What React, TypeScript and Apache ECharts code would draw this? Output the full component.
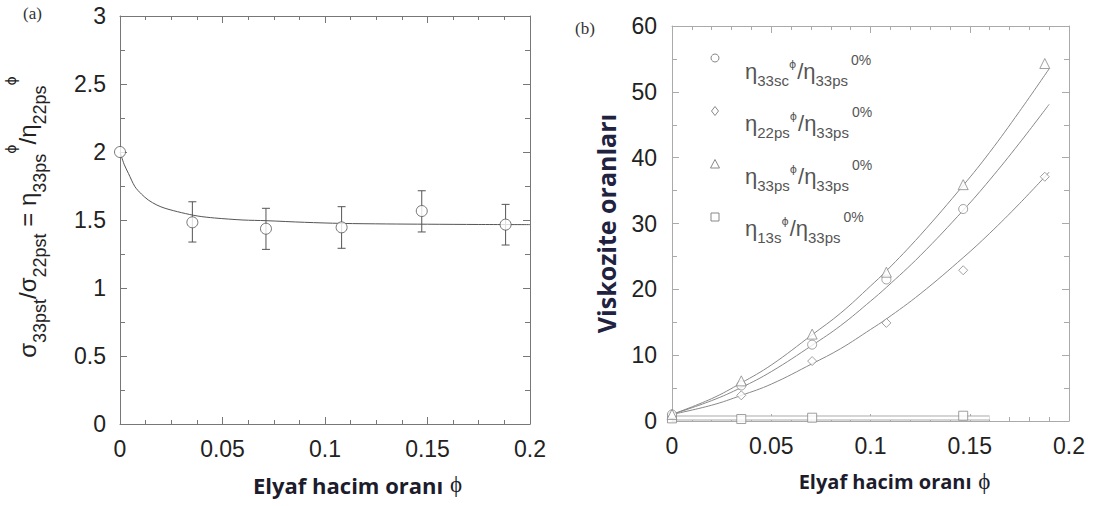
import React, { useEffect, useRef } from "react";
import * as echarts from "echarts";

// ---------- texts ----------
const panelALabel = "(a)";
const panelBLabel = "(b)";
const xNameText = "Elyaf hacim oranı";
const phiSymbol = "ϕ";
const yNameB = "Viskozite oranları";
const legendNames = [
  ["33sc", "33ps"],
  ["22ps", "33ps"],
  ["33ps", "33ps"],
  ["13s", "33ps"],
];

// ---------- panel (a) data ----------
const phiA = [0, 0.0353, 0.0712, 0.1081, 0.1472, 0.1881];
const ratioA = [2.0, 1.483, 1.436, 1.446, 1.566, 1.466];
const errLowA = [2.0, 1.338, 1.284, 1.292, 1.412, 1.316];
const errHighA = [2.0, 1.634, 1.586, 1.598, 1.715, 1.615];
const fitPhiA = [0, 0.002, 0.0041, 0.0073, 0.0105, 0.0138, 0.018, 0.022, 0.03, 0.038, 0.046, 0.06, 0.0712, 0.09, 0.1081, 0.13, 0.15, 0.175, 0.2];
const fitA = [2.0, 1.91, 1.843, 1.745, 1.69, 1.647, 1.61, 1.586, 1.554, 1.529, 1.515, 1.5, 1.495, 1.483, 1.475, 1.471, 1.469, 1.467, 1.466];

// ---------- panel (b) data ----------
const phiCirc = [0, 0.0349, 0.0706, 0.108, 0.1467];
const eta33sc = [1.0, 5.4, 11.6, 21.5, 32.2];
const phiDiam = [0, 0.0349, 0.0706, 0.108, 0.1467, 0.1878];
const eta22ps = [1.0, 3.9, 9.1, 14.9, 22.9, 37.1];
const phiTri = [0, 0.0349, 0.0706, 0.108, 0.1467, 0.1878];
const eta33ps = [1.0, 6.1, 13.2, 22.6, 35.9, 54.3];
const phiSq = [0, 0.0349, 0.0706, 0.1467];
const eta13s = [0.4, 0.3, 0.5, 0.8];

const fitPhiB = [0, 0.02, 0.035, 0.05, 0.0706, 0.085, 0.1, 0.108, 0.125, 0.147, 0.16, 0.175, 0.19];
const fitTri = [1.0, 3.4, 5.8, 8.5, 13.1, 16.4, 20.5, 22.8, 28.2, 35.9, 40.8, 47.0, 53.5];
const fitCirc = [1.0, 3.1, 5.1, 7.5, 11.5, 14.5, 18.2, 20.3, 25.1, 32.1, 36.6, 42.2, 48.1];
const fitDiam = [1.0, 2.4, 3.9, 5.6, 8.7, 11.0, 13.9, 15.5, 19.3, 24.9, 28.5, 33.0, 37.8];
const fitSqPhi = [0, 0.16];
const fitSq = [0.45, 0.45];

const zip = (xs: number[], ys: number[]) => xs.map((x, i) => [x, ys[i]]);

const SANS = "Liberation Sans, Arial, sans-serif";
const SERIF = "Liberation Serif, Times New Roman, serif";
const BOLD = "Open Sans, Lato, sans-serif";
const PHI = "DejaVu Sans, sans-serif";

function makeX(grid: number, pos: "top" | "bottom", minorSplit: number, color: string, labels: boolean, name?: string, nameShift = 0, nameSize = 21) {
  return {
    type: "value",
    gridIndex: grid,
    position: pos,
    min: 0,
    max: 0.2,
    interval: 0.05,
    axisLine: { show: true, onZero: false, lineStyle: { color, width: 1 } },
    axisTick: { show: true, inside: true, length: 7, lineStyle: { color } },
    minorTick: { show: true, splitNumber: minorSplit, length: 4, lineStyle: { color } },
    splitLine: { show: false },
    minorSplitLine: { show: false },
    axisLabel: { show: labels, fontSize: 23, color: "#222", fontFamily: SANS, margin: 13 },
    name: name ? `{b|${name}}  {p|${phiSymbol}}` : undefined,
    nameLocation: "middle",
    nameGap: 49,
    nameTextStyle: {
      padding: [0, 0, 0, nameShift],
      rich: {
        b: { fontFamily: BOLD, fontWeight: "bold", fontSize: nameSize, color: "#1c1c2c" },
        p: { fontFamily: SERIF, fontSize: 23, color: "#1c1c2c" },
      },
    },
  };
}

function makeY(grid: number, pos: "left" | "right", max: number, interval: number, color: string, labels: boolean, margin: number) {
  return {
    type: "value",
    gridIndex: grid,
    position: pos,
    min: 0,
    max,
    interval,
    axisLine: { show: true, onZero: false, lineStyle: { color, width: 1 } },
    axisTick: { show: true, inside: true, length: 7, lineStyle: { color } },
    minorTick: { show: true, splitNumber: 2, length: 5, lineStyle: { color } },
    splitLine: { show: false },
    minorSplitLine: { show: false },
    axisLabel: { show: labels, fontSize: 23, color: "#222", fontFamily: SANS, margin },
  };
}

const errorBarItem = (params: any, api: any) => {
  const x = api.value(0);
  const lo = api.value(1);
  const hi = api.value(2);
  if (hi - lo < 1e-6) return null;
  const top = api.coord([x, hi]);
  const bot = api.coord([x, lo]);
  const w = 4;
  const st = { stroke: "#555", lineWidth: 1 };
  return {
    type: "group",
    children: [
      { type: "line", shape: { x1: top[0], y1: top[1], x2: bot[0], y2: bot[1] }, style: st },
      { type: "line", shape: { x1: top[0] - w, y1: top[1], x2: top[0] + w, y2: top[1] }, style: st },
      { type: "line", shape: { x1: bot[0] - w, y1: bot[1], x2: bot[0] + w, y2: bot[1] }, style: st },
    ],
  };
};

const markerStyleB = { color: "#fff", borderColor: "#888", borderWidth: 1 };
const legendMarkerStyle = { fill: "#fff", stroke: "#888", lineWidth: 1 };

function legendText(sub1: string, sub2: string, top: number) {
  return {
    type: "text",
    x: 745,
    y: top,
    style: {
      text: `{m|η}{s|${sub1}}{p|${phiSymbol}}{m|/η}{s|${sub2}}{q|0%}`,
      fill: "#555",
      rich: {
        m: { fontFamily: SANS, fontSize: 22, fill: "#555", verticalAlign: "top", padding: [7, 0, 0, 0] },
        s: { fontFamily: SANS, fontSize: 15, fill: "#555", verticalAlign: "top", padding: [20, 0, 0, 0] },
        p: { fontFamily: PHI, fontSize: 11, fill: "#555", verticalAlign: "top", padding: [6, 1, 0, 0] },
        q: { fontFamily: SANS, fontSize: 14, fill: "#555", verticalAlign: "top", padding: [0, 0, 0, 3] },
      },
    },
  };
}

const legendTops = [53, 105, 158, 210];
const markerX = 715;
const markerYs = [58, 111, 164, 217];

export default function App() {
  const ref = useRef<HTMLDivElement>(null);
  useEffect(() => {
    const chart = echarts.init(ref.current!, null, { renderer: "svg" });
    const option: any = {
      animation: false,
      backgroundColor: "#fff",
      grid: [
        { left: 120, top: 16, width: 410, height: 408 },
        { left: 672, top: 26, width: 397, height: 395 },
      ],
      xAxis: [
        makeX(0, "bottom", 4, "#777", true, xNameText, 65, 22),
        makeX(0, "top", 4, "#777", false),
        makeX(1, "bottom", 5, "#aaa", true, xNameText, 48, 20),
        makeX(1, "top", 5, "#aaa", false),
      ],
      yAxis: [
        makeY(0, "left", 3, 0.5, "#777", true, 14),
        makeY(0, "right", 3, 0.5, "#777", false, 14),
        {
          ...makeY(1, "left", 60, 10, "#aaa", true, 15),
          name: yNameB,
          nameLocation: "middle",
          nameGap: 54,
          nameRotate: 90,
          nameTextStyle: { fontFamily: BOLD, fontWeight: "bold", fontSize: 25, color: "#1f2340" },
        },
        makeY(1, "right", 60, 10, "#aaa", false, 15),
      ],
      series: [
        {
          type: "line",
          xAxisIndex: 0,
          yAxisIndex: 0,
          data: zip(fitPhiA, fitA),
          smooth: 0.3,
          showSymbol: false,
          lineStyle: { color: "#555", width: 1 },
          z: 2,
        },
        {
          type: "custom",
          xAxisIndex: 0,
          yAxisIndex: 0,
          renderItem: errorBarItem,
          encode: { x: 0, y: [1, 2] },
          data: phiA.map((x, i) => [x, errLowA[i], errHighA[i]]),
          z: 3,
        },
        {
          type: "scatter",
          xAxisIndex: 0,
          yAxisIndex: 0,
          data: zip(phiA, ratioA),
          symbol: "circle",
          symbolSize: 11,
          itemStyle: { color: "#fff", borderColor: "#555", borderWidth: 1 },
          z: 5,
        },
        // panel (b) fits
        { type: "line", xAxisIndex: 2, yAxisIndex: 2, data: zip(fitPhiB, fitTri), smooth: 0.4, showSymbol: false, lineStyle: { color: "#888", width: 1 }, z: 2 },
        { type: "line", xAxisIndex: 2, yAxisIndex: 2, data: zip(fitPhiB, fitCirc), smooth: 0.4, showSymbol: false, lineStyle: { color: "#888", width: 1 }, z: 2 },
        { type: "line", xAxisIndex: 2, yAxisIndex: 2, data: zip(fitPhiB, fitDiam), smooth: 0.4, showSymbol: false, lineStyle: { color: "#888", width: 1 }, z: 2 },
        { type: "line", xAxisIndex: 2, yAxisIndex: 2, data: zip(fitSqPhi, fitSq), showSymbol: false, lineStyle: { color: "#aaa", width: 5 }, z: 2 },
        { type: "line", xAxisIndex: 2, yAxisIndex: 2, data: zip(fitSqPhi, fitSq), showSymbol: false, lineStyle: { color: "#fff", width: 3 }, z: 2 },
        // panel (b) markers
        { type: "scatter", xAxisIndex: 2, yAxisIndex: 2, data: zip(phiSq, eta13s), symbol: "rect", symbolSize: 9, itemStyle: markerStyleB, z: 5 },
        { type: "scatter", xAxisIndex: 2, yAxisIndex: 2, data: zip(phiDiam, eta22ps), symbol: "diamond", symbolSize: 9, itemStyle: markerStyleB, z: 5 },
        { type: "scatter", xAxisIndex: 2, yAxisIndex: 2, data: zip(phiCirc, eta33sc), symbol: "circle", symbolSize: 9, itemStyle: markerStyleB, z: 5 },
        { type: "scatter", xAxisIndex: 2, yAxisIndex: 2, data: zip(phiTri, eta33ps), symbol: "triangle", symbolSize: 10, itemStyle: markerStyleB, z: 5 },
      ],
      graphic: [
        { type: "text", x: 23, y: 5, style: { text: panelALabel, font: `17px ${SERIF}`, fill: "#333" } },
        { type: "text", x: 575, y: 20, style: { text: panelBLabel, font: `17px ${SERIF}`, fill: "#333" } },
        {
          type: "text",
          x: 23,
          y: 217,
          rotation: Math.PI / 2,
          style: {
            text: `{m|σ}{s|33pst}{m|/σ}{s|22pst}{m| = η}{s|33ps}{p|${phiSymbol}}{m|/η}{s|22ps}{p|${phiSymbol}}`,
            align: "center",
            verticalAlign: "middle",
            fill: "#222",
            rich: {
              m: { fontFamily: SANS, fontSize: 24, fill: "#222", verticalAlign: "top", padding: [18, 0, 0, 0] },
              s: { fontFamily: SANS, fontSize: 18, fill: "#222", verticalAlign: "top", padding: [34, 0, 0, 0] },
              p: { fontFamily: PHI, fontSize: 14, fill: "#222", verticalAlign: "top", padding: [7, 0, 0, 0] },
            },
          },
        },
        // legend markers for panel (b)
        { type: "circle", shape: { cx: markerX, cy: markerYs[0], r: 4 }, style: legendMarkerStyle },
        {
          type: "polygon",
          shape: { points: [[markerX, markerYs[1] - 4.5], [markerX + 3.5, markerYs[1]], [markerX, markerYs[1] + 4.5], [markerX - 3.5, markerYs[1]]] },
          style: legendMarkerStyle,
        },
        {
          type: "polygon",
          shape: { points: [[markerX, markerYs[2] - 4.5], [markerX + 4.5, markerYs[2] + 4], [markerX - 4.5, markerYs[2] + 4]] },
          style: legendMarkerStyle,
        },
        { type: "rect", shape: { x: markerX - 4, y: markerYs[3] - 4, width: 8, height: 8 }, style: legendMarkerStyle },
        ...legendNames.map((n, i) => legendText(n[0], n[1], legendTops[i])),
      ],
    };
    chart.setOption(option);
    return () => chart.dispose();
  }, []);
  return (
    <div
      ref={ref}
      style={{ position: "fixed", left: 0, top: 0, width: 1101, height: 506, background: "#fff" }}
    />
  );
}
